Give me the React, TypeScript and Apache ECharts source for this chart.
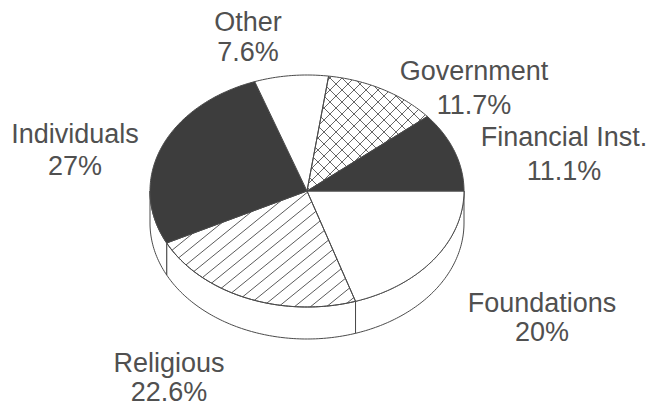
import React, { useEffect, useRef } from "react";
import * as echarts from "echarts";

// ---- data (clockwise from the 3 o'clock position) ----
const categories = ["Foundations", "Religious", "Individuals", "Other", "Government", "Financial Inst."];
const values = [20, 22.6, 27, 7.6, 11.7, 11.1];
const valueLabels = ["20%", "22.6%", "27%", "7.6%", "11.7%", "11.1%"];

// ---- styles / layout (not data) ----
const fillKinds = ["white", "hatch", "dark", "white", "cross", "dark"];
const labelLayout = [
  [542, 303, 332],
  [169, 363, 392],
  [75, 133.5, 166],
  [248, 21.7, 51.7],
  [474, 70.5, 105],
  [564, 136.7, 171],
];

const CX = 307;
const CY = 191;
const RX = 157;
const RY = 116;
const DEPTH = 32;
const LINE = "#4a4a4a";
const DARK = "#3d3d3d";
const TEXT = "#505050";

function svgUrl(svg: string) {
  return "data:image/svg+xml;utf8," + encodeURIComponent(svg);
}

const HW = 16;
const HH = 13;
const hatchSvg =
  `<svg xmlns='http://www.w3.org/2000/svg' width='${HW}' height='${HH}'>` +
  `<path d='M${-2 * HW} ${2 * HH} L${HW} ${-HH} M${-HW} ${2 * HH} L${2 * HW} ${-HH} M0 ${2 * HH} L${3 * HW} ${-HH}' stroke='#5a5a5a' stroke-width='1' fill='none'/></svg>`;
const CW = 12;
const crossSvg =
  `<svg xmlns='http://www.w3.org/2000/svg' width='${CW}' height='${CW}'>` +
  `<path d='M${-CW} ${-CW} L${2 * CW} ${2 * CW} M0 ${-CW} L${2 * CW} ${CW} M${-CW} 0 L${CW} ${2 * CW} M${-CW} ${2 * CW} L${2 * CW} ${-CW} M${-CW} ${CW} L${CW} ${-CW} M0 ${2 * CW} L${2 * CW} 0' stroke='#666' stroke-width='1' fill='none'/></svg>`;

const hatchPattern = { image: svgUrl(hatchSvg), repeat: "repeat", imageWidth: HW, imageHeight: HH };
const crossPattern = { image: svgUrl(crossSvg), repeat: "repeat", imageWidth: CW, imageHeight: CW };

function fillFor(kind: string): any {
  if (kind === "dark") return DARK;
  if (kind === "hatch") return hatchPattern;
  if (kind === "cross") return crossPattern;
  return "#ffffff";
}

function pt(deg: number, dy = 0): number[] {
  const t = (deg * Math.PI) / 180;
  return [CX + RX * Math.cos(t), CY + RY * Math.sin(t) + dy];
}

function arc(a0: number, a1: number, dy = 0): number[][] {
  const pts: number[][] = [];
  const n = Math.max(2, Math.ceil(Math.abs(a1 - a0)));
  for (let i = 0; i <= n; i++) pts.push(pt(a0 + ((a1 - a0) * i) / n, dy));
  return pts;
}

export default function App() {
  const ref = useRef<HTMLDivElement>(null);
  useEffect(() => {
    if (!ref.current) return;
    const chart = echarts.init(ref.current, null, { renderer: "svg" });
    const total = values.reduce((s, v) => s + v, 0);
    const starts: number[] = [];
    let acc = 0;
    values.forEach((v) => {
      starts.push(acc);
      acc += v;
    });

    const graphics: any[] = [];
    categories.forEach((c, i) => {
      const [x, y1, y2] = labelLayout[i];
      [c, valueLabels[i]].forEach((txt, k) => {
        graphics.push({
          type: "text",
          x,
          y: k === 0 ? y1 : y2,
          silent: true,
          style: {
            text: txt,
            fontSize: 27,
            fontFamily: "Liberation Sans, Arial, sans-serif",
            fill: TEXT,
            align: "center",
            textAlign: "center",
            verticalAlign: "middle",
            textVerticalAlign: "middle",
          },
        });
      });
    });

    chart.setOption({
      animation: false,
      backgroundColor: "#ffffff",
      series: [
        {
          type: "custom",
          coordinateSystem: "none",
          silent: true,
          data: values.map((v, i) => ({ name: categories[i], value: v })),
          renderItem: (params: any) => {
            const i = params.dataIndex;
            const a0 = (starts[i] / total) * 360;
            const a1 = ((starts[i] + values[i]) / total) * 360;
            const children: any[] = [];
            const lo = Math.max(a0, 0);
            const hi = Math.min(a1, 180);
            if (hi > lo) {
              const side = arc(lo, hi, 0).concat(arc(hi, lo, DEPTH));
              children.push({
                type: "polygon",
                shape: { points: side },
                style: { fill: "#ffffff", stroke: LINE, lineWidth: 1, lineJoin: "round" },
              });
            }
            const top = [[CX, CY]].concat(arc(a0, a1, 0));
            children.push({
              type: "polygon",
              shape: { points: top },
              style: { fill: fillFor(fillKinds[i]), stroke: LINE, lineWidth: 1, lineJoin: "round" },
            });
            return { type: "group", children };
          },
        },
      ],
      graphic: graphics,
    });
    return () => chart.dispose();
  }, []);
  return (
    <div
      ref={ref}
      style={{ position: "fixed", left: 0, top: 0, width: 663, height: 410, background: "#fff" }}
    />
  );
}
